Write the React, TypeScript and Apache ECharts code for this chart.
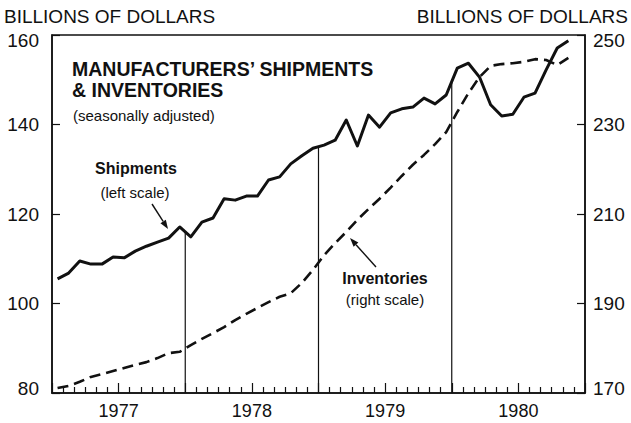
import React, { useEffect, useRef } from "react";
import * as echarts from "echarts";

// Months counted from January 1977; each value is plotted at mid-month.
const yearLabels = ["1977", "1978", "1979", "1980"];
const shipments = [
  105.5, 106.8, 109.5, 108.8, 108.8, 110.4, 110.2, 111.7, 112.8, 113.7, 114.6, 117.1,
  114.9, 118.2, 119.1, 123.4, 123.1, 124.0, 124.0, 127.6, 128.3, 131.2, 133.0, 134.7,
  135.4, 136.5, 141.0, 135.2, 142.1, 139.4, 142.6, 143.5, 143.9, 145.9, 144.6, 146.6,
  152.6, 153.7, 150.6, 144.4, 141.9, 142.3, 146.1, 147.0, 152.2, 157.1, 158.7,
];
const inventories = [
  171.1, 171.6, 172.5, 173.6, 174.2, 174.9, 175.6, 176.3, 176.9, 177.8, 178.9, 179.2,
  180.7, 182.1, 183.4, 184.7, 186.3, 187.7, 189.0, 190.3, 191.5, 192.3, 194.6, 197.5,
  200.8, 203.5, 206.0, 208.7, 211.1, 213.4, 215.9, 218.5, 221.0, 223.2, 225.6, 228.3,
  232.8, 237.0, 240.6, 243.1, 243.5, 243.7, 244.0, 244.6, 244.4, 243.3, 244.9,
];
const leftTicks = [80, 100, 120, 140, 160];
const rightTicks = [170, 190, 210, 230, 250];
const yearBoundaries = [12, 24, 36];

const FONT = "Liberation Sans";
const INK = "#111";

function arrow(x0: number, y0: number, x1: number, y1: number) {
  const dx = x1 - x0, dy = y1 - y0;
  const len = Math.sqrt(dx * dx + dy * dy);
  const ux = dx / len, uy = dy / len;
  const hl = 9, hw = 3.2;
  const bx = x1 - ux * hl, by = y1 - uy * hl;
  return [
    { type: "line", shape: { x1: x0, y1: y0, x2: bx, y2: by }, style: { stroke: INK, lineWidth: 1.4 }, z: 10 },
    {
      type: "polygon",
      shape: { points: [[x1, y1], [bx - uy * hw, by + ux * hw], [bx + uy * hw, by - ux * hw]] },
      style: { fill: INK },
      z: 10,
    },
  ];
}

function txt(text: string, x: number, y: number, size: number, bold: boolean, align = "left") {
  return {
    type: "text",
    z: 10,
    style: {
      text,
      x,
      y,
      font: `${bold ? "bold " : ""}${size}px "${FONT}"`,
      fill: INK,
      textAlign: align,
      textVerticalAlign: "middle",
    },
  };
}

export default function App() {
  const ref = useRef<HTMLDivElement>(null);
  useEffect(() => {
    if (!ref.current) return;
    const chart = echarts.init(ref.current, null, { renderer: "svg" });
    const vlines = yearBoundaries.map((b) => ({
      type: "line",
      xAxisIndex: 0,
      yAxisIndex: 0,
      symbol: "none",
      silent: true,
      lineStyle: { color: INK, width: 1.2 },
      data: [
        [b, leftTicks[0]],
        [b, (shipments[b - 1] + shipments[b]) / 2],
      ],
      z: 2,
    }));
    const yLabel = {
      fontSize: 19,
      fontFamily: FONT,
      color: INK,
      lineHeight: 10,
      verticalAlignMinLabel: "bottom",
      verticalAlignMaxLabel: "top",
    };
    const option: any = {
      animation: false,
      backgroundColor: "#fff",
      grid: {
        left: 52,
        right: 46,
        top: 35,
        bottom: 30,
        show: true,
        borderColor: INK,
        borderWidth: 1.5,
        backgroundColor: "transparent",
      },
      xAxis: [
        {
          type: "value",
          min: 0,
          max: 48,
          interval: 6,
          axisLine: { show: true, lineStyle: { color: INK, width: 1.5 } },
          axisTick: { show: true, inside: true, length: 10, lineStyle: { color: INK, width: 1.2 } },
          minorTick: { show: true, splitNumber: 6, length: 6, lineStyle: { color: INK, width: 1.2 } },
          axisLabel: {
            formatter: (v: number) => (v % 12 === 6 ? yearLabels[(v - 6) / 12] : ""),
            fontSize: 18,
            fontFamily: FONT,
            color: INK,
            margin: 9,
          },
          splitLine: { show: false },
          minorSplitLine: { show: false },
        },
      ],
      yAxis: [
        {
          type: "value",
          position: "left",
          min: 80,
          max: 160,
          interval: 20,
          axisLine: { show: true, lineStyle: { color: INK, width: 1.5 } },
          axisTick: { show: true, inside: true, length: 8, customValues: leftTicks, lineStyle: { color: INK, width: 1.2 } },
          axisLabel: { ...yLabel, customValues: leftTicks, margin: 13 },
          splitLine: { show: false },
        },
        {
          type: "value",
          position: "right",
          min: 170,
          max: 250,
          axisLine: { show: true, lineStyle: { color: INK, width: 1.5 } },
          axisTick: { show: true, inside: true, length: 8, customValues: rightTicks, lineStyle: { color: INK, width: 1.2 } },
          axisLabel: { ...yLabel, customValues: rightTicks, margin: 8 },
          splitLine: { show: false },
        },
      ],
      series: [
        {
          name: "Shipments",
          type: "line",
          xAxisIndex: 0,
          yAxisIndex: 0,
          symbol: "none",
          lineStyle: { color: INK, width: 3, join: "round" },
          data: shipments.map((v, i) => [i + 0.5, v]),
          z: 4,
        },
        {
          name: "Inventories",
          type: "line",
          xAxisIndex: 0,
          yAxisIndex: 1,
          symbol: "none",
          lineStyle: { color: INK, width: 2.6, type: [11, 6] },
          data: inventories.map((v, i) => [i + 0.5, v]),
          z: 4,
        },
        ...vlines,
      ],
      graphic: [
        txt("BILLIONS OF DOLLARS", 4, 16, 19, false),
        txt("BILLIONS OF DOLLARS", 628, 16, 19, false, "right"),
        txt("MANUFACTURERS\u2019 SHIPMENTS", 72, 69, 19.5, true),
        txt("& INVENTORIES", 72, 90, 19.5, true),
        txt("(seasonally adjusted)", 73, 115, 15, false),
        txt("Shipments", 136, 168, 16, true, "center"),
        txt("(left scale)", 135, 192, 15, false, "center"),
        txt("Inventories", 385, 278, 16, true, "center"),
        txt("(right scale)", 385, 299, 15, false, "center"),
        ...arrow(152, 204, 168, 229),
        ...arrow(376, 267, 350, 238),
      ],
    };
    chart.setOption(option);
    return () => chart.dispose();
  }, []);
  return <div ref={ref} style={{ width: 631, height: 423, position: "absolute", left: 0, top: 0 }} />;
}
